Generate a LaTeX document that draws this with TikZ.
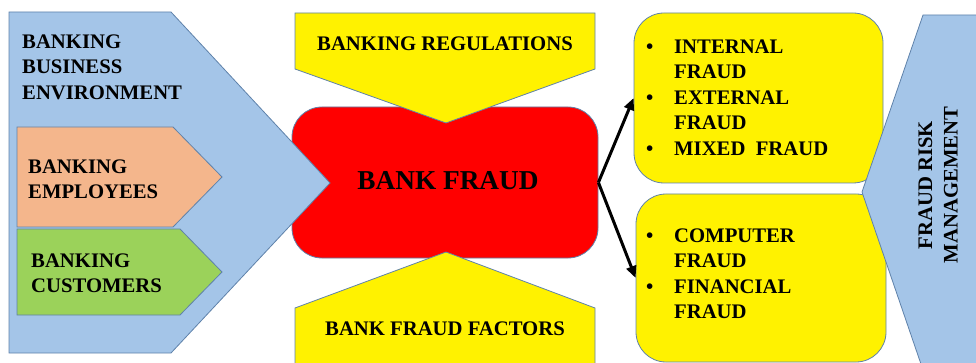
\documentclass[tikz,border=0pt]{standalone}
\usepackage{fontspec}
\setmainfont{Liberation Serif}
\usetikzlibrary{arrows.meta}
\definecolor{lblue}{RGB}{164,197,232}
\definecolor{lorange}{RGB}{244,182,140}
\definecolor{lgreen}{RGB}{155,210,90}
\definecolor{edge}{RGB}{95,130,170}
\tikzset{
  shapeline/.style={draw=edge, line width=0.8pt},
  txt/.style={font=\rmfamily\bfseries\fontsize{20.7}{25.5}\selectfont, inner sep=0pt, align=left},
  bigtxt/.style={font=\rmfamily\bfseries\fontsize{27.3}{32}\selectfont, inner sep=0pt},
  fbox/.style={shapeline, fill=yellow, rounded corners=30pt, inner sep=0pt},
  arr/.style={-{Triangle[length=12pt,width=10pt]}, line width=3pt, draw=black}
}
\newcommand{\bulit}[1]{\makebox[28pt][l]{\textbullet}#1}
\newcommand{\cont}[1]{\hspace*{28pt}#1}
\begin{document}
\begin{tikzpicture}[x=1pt,y=-1pt]
\useasboundingbox (0,0) rectangle (976,363);
\clip (0,0) rectangle (976,363);
% central red box
\node[shapeline, fill=red, rounded corners=30pt, minimum width=306pt, minimum height=151pt, inner sep=0pt] (fraud) at (445,182.5) {};
% top and bottom yellow chevrons
\draw[shapeline, fill=yellow] (295,13) -- (595,13) -- (595,69) -- (446,123) -- (295,69) -- cycle;
\draw[shapeline, fill=yellow] (295,370) -- (295,308) -- (446,252) -- (595,308) -- (595,370) -- cycle;
% left big blue pentagon
\draw[shapeline, fill=lblue] (9,12) -- (171,12) -- (330,183) -- (171,353) -- (9,353) -- cycle;
\draw[shapeline, fill=lorange] (17,127) -- (173,127) -- (222,177) -- (173,227) -- (17,227) -- cycle;
\draw[shapeline, fill=lgreen] (17,229) -- (180,229) -- (222,272) -- (180,315) -- (17,315) -- cycle;
% right yellow boxes
\node[fbox, minimum width=249pt, minimum height=170pt] (types1) at (758.5,98) {};
\node[fbox, minimum width=250pt, minimum height=168pt] (types2) at (761,278) {};
% right blue shape
\draw[shapeline, fill=lblue] (990,15) -- (923,15) -- (862,192) -- (923,370) -- (990,370) -- cycle;
% texts
\node[txt, anchor=west] (t1) at (22,67) {BANKING\\BUSINESS\\ENVIRONMENT};
\node[txt, anchor=west] (t2) at (28,179) {BANKING\\EMPLOYEES};
\node[txt, anchor=west] (t3) at (31,273) {BANKING\\CUSTOMERS};
\node[txt] (t4) at (445,44) {BANKING REGULATIONS};
\node[bigtxt] (t5) at (448,181) {BANK FRAUD};
\node[txt] (t6) at (445,329) {BANK FRAUD FACTORS};
\node[txt, anchor=west] (t7) at (646,97.5) {\bulit{INTERNAL}\\\cont{FRAUD}\\\bulit{EXTERNAL}\\\cont{FRAUD}\\\bulit{MIXED\ \ FRAUD}};
\node[txt, anchor=west] (t8) at (646,273.5) {\bulit{COMPUTER}\\\cont{FRAUD}\\\bulit{FINANCIAL}\\\cont{FRAUD}};
\node[txt, align=center, rotate=90] (t9) at (938,185) {FRAUD RISK\\MANAGEMENT};
% arrows
\draw[arr] (fraud.east) -- (types1.west);
\draw[arr] (fraud.east) -- (types2.west);
\end{tikzpicture}
\end{document}
